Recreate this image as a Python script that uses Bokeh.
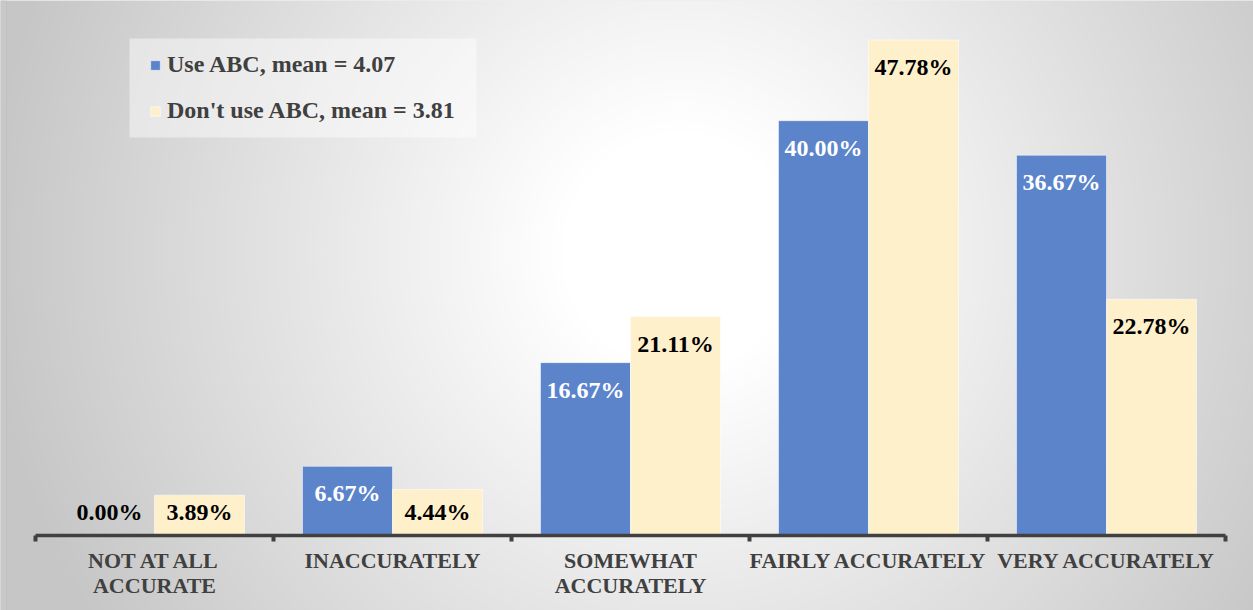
import numpy as np
from bokeh.plotting import figure
from bokeh.models import (ColumnDataSource, Range1d, LinearAxis, FixedTicker,
                          Legend, LegendItem, BoxAnnotation)
from bokeh.core.properties import value
from bokeh.embed import file_html
from bokeh.resources import INLINE

# ---- data ----
categories = ["NOT AT ALL\nACCURATE", "INACCURATELY", "SOMEWHAT\nACCURATELY",
              "FAIRLY ACCURATELY", "VERY ACCURATELY"]
use_abc = [0.00, 6.67, 16.67, 40.00, 36.67]
dont_use_abc = [3.89, 4.44, 21.11, 47.78, 22.78]
series_names = ["Use ABC, mean = 4.07", "Don't use ABC, mean = 3.81"]

W, H = 1253, 610
BLUE = "#5B84CB"
CREAM = "#FFF0CC"
AXIS = "#404040"
FONT = "Liberation Serif"

px_per_cat = 238.0
x0_px = 154.0
px_per_unit = 10.37
zero_px = 535.0

x_start = -x0_px / px_per_cat
x_end = (W - x0_px) / px_per_cat
y_end = zero_px / px_per_unit
y_start = -(H - zero_px) / px_per_unit

p = figure(width=W, height=H, output_backend="svg", toolbar_location=None,
           x_range=Range1d(x_start, x_end), y_range=Range1d(y_start, y_end),
           x_axis_type=None, y_axis_type=None,
           min_border=0, min_border_left=0, min_border_right=0,
           min_border_top=0, min_border_bottom=0)
p.outline_line_color = None
p.xgrid.visible = False
p.ygrid.visible = False
p.background_fill_color = "#e0e0e0"
p.border_fill_color = "#e0e0e0"

# ---- radial gradient background ----
yy, xx = np.mgrid[0:H, 0:W].astype(float)
cx, cy = 680.0, 250.0
d = np.sqrt((xx - cx) ** 2 + (yy - cy) ** 2)
t = np.clip((d - 120.0) / 580.0, 0, 1)
g = (255 - t * (255 - 198)).astype(np.uint8)
img = np.zeros((H, W), dtype=np.uint32)
view = img.view(dtype=np.uint8).reshape((H, W, 4))
view[:, :, 0] = g
view[:, :, 1] = g
view[:, :, 2] = g
view[:, :, 3] = 255
img = np.flipud(img)
p.image_rgba(image=[img], x=x_start, y=y_start, dw=x_end - x_start,
             dh=y_end - y_start, level="image")

# left edge strip (screen units: y measured from the bottom)
p.add_layout(BoxAnnotation(left=0, right=6, top=H, bottom=0,
                           left_units="screen", right_units="screen",
                           top_units="screen", bottom_units="screen",
                           fill_color="#c8c8c8", fill_alpha=1,
                           line_color="#b4b4b4", line_width=1, level="underlay"))

# legend background box
p.add_layout(BoxAnnotation(left=129, right=476, top=H - 38, bottom=H - 137,
                           left_units="screen", right_units="screen",
                           top_units="screen", bottom_units="screen",
                           fill_color="white", fill_alpha=0.45, line_color=None,
                           level="underlay"))

# ---- bars ----
idx = np.arange(len(categories))
bw = 90.0 / px_per_cat
off = 45.0 / px_per_cat
src = ColumnDataSource(dict(
    xb=idx - off, xc=idx + off, a=use_abc, b=dont_use_abc,
    la=[f"{v:.2f}%" for v in use_abc], lb=[f"{v:.2f}%" for v in dont_use_abc],
    ya=[max(v - 27 / px_per_unit, 24 / px_per_unit) for v in use_abc],
    yb=[max(v - 27 / px_per_unit, 24 / px_per_unit) for v in dont_use_abc],
    ca=["white" if v > 5 else "black" for v in use_abc],
))
r1 = p.vbar(x="xb", top="a", width=bw, bottom=0, source=src, fill_color=BLUE,
            line_color="white", line_alpha=0.5, line_width=1)
r2 = p.vbar(x="xc", top="b", width=bw, bottom=0, source=src, fill_color=CREAM,
            line_color="white", line_alpha=0.5, line_width=1)

p.text(x="xb", y="ya", text="la", source=src, text_color="ca",
       text_font=value(FONT), text_font_style="bold", text_font_size="24px",
       text_align="center", text_baseline="middle")
p.text(x="xc", y="yb", text="lb", source=src, text_color="black",
       text_font=value(FONT), text_font_style="bold", text_font_size="24px",
       text_align="center", text_baseline="middle")

# ---- axes ----
ax_line = LinearAxis(fixed_location=0, bounds=(-0.5, len(categories) - 0.5),
                     ticker=FixedTicker(ticks=[i - 0.5 for i in range(len(categories) + 1)]))
ax_line.axis_line_color = AXIS
ax_line.axis_line_width = 3.5
ax_line.major_tick_line_color = AXIS
ax_line.major_tick_line_width = 4
ax_line.major_tick_out = 6
ax_line.major_tick_in = 0
ax_line.minor_tick_line_color = None
ax_line.major_label_text_alpha = 0
ax_line.major_label_text_font_size = "1px"
p.add_layout(ax_line, "below")

ax_lab = LinearAxis(fixed_location=0,
                    ticker=FixedTicker(ticks=list(range(len(categories)))))
ax_lab.axis_line_color = None
ax_lab.major_tick_line_color = None
ax_lab.minor_tick_line_color = None
ax_lab.major_label_overrides = {i: c for i, c in enumerate(categories)}
ax_lab.major_label_text_font = FONT
ax_lab.major_label_text_font_style = "bold"
ax_lab.major_label_text_font_size = "22px"
ax_lab.major_label_text_color = AXIS
ax_lab.major_label_text_line_height = 1.0
ax_lab.major_label_standoff = 6
p.add_layout(ax_lab, "below")

# ---- legend ----
legend = Legend(items=[LegendItem(label=series_names[0], renderers=[r1]),
                       LegendItem(label=series_names[1], renderers=[r2])],
                location=(149, H - 137 + 13), orientation="vertical")
legend.label_text_font = FONT
legend.label_text_font_style = "bold"
legend.label_text_font_size = "24px"
legend.label_text_color = AXIS
legend.glyph_width = 12
legend.glyph_height = 12
legend.label_height = 23
legend.label_standoff = 6
legend.spacing = 19
legend.padding = 0
legend.margin = 0
legend.border_line_color = None
legend.background_fill_alpha = 0
p.add_layout(legend, "center")

open("out.html", "w").write(file_html(p, INLINE))
